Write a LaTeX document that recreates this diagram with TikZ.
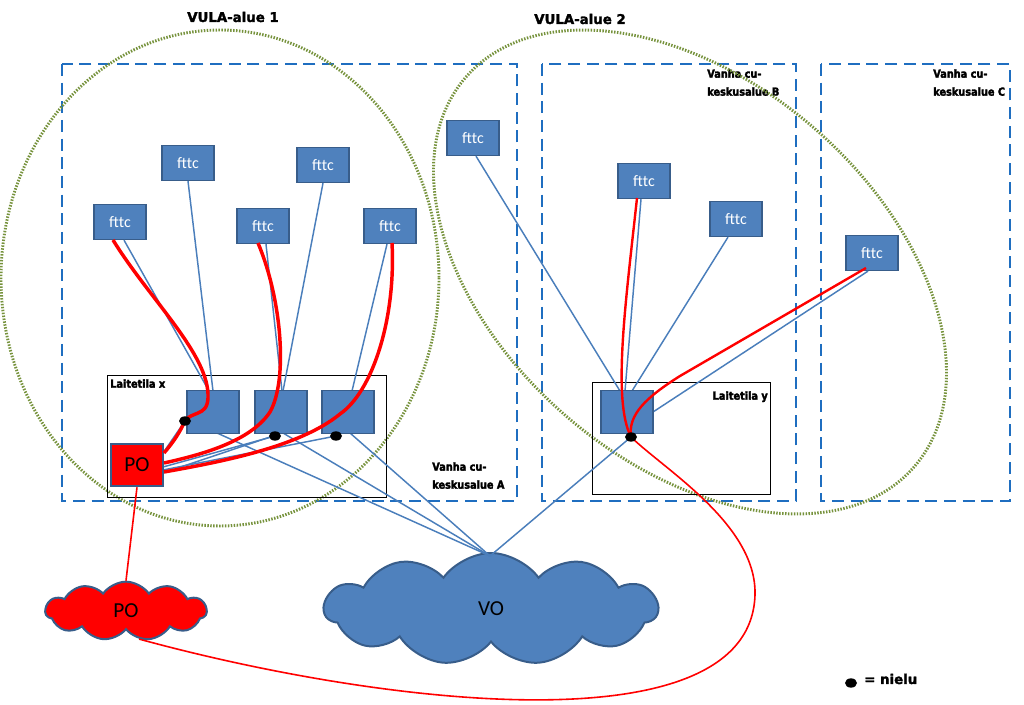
\documentclass[tikz,border=0pt]{standalone}
\usepackage{fontspec}
\setmainfont{Carlito}
\newfontfamily\labfont{DejaVu Sans}[BoldFeatures={FakeBold=2}]
\newfontfamily\smalllabfont{DejaVu Sans}[FakeStretch=0.88,BoldFeatures={FakeBold=2.5}]
\usetikzlibrary{shapes.symbols,shapes.geometric,calc}
\definecolor{dashblue}{HTML}{1F6EC0}
\definecolor{vulaolive}{HTML}{76923C}
\definecolor{boxfill}{HTML}{4F81BD}
\definecolor{boxline}{HTML}{385D8A}
\definecolor{wireblue}{HTML}{4A7EBB}
\definecolor{pored}{HTML}{FF0000}
\tikzset{
 fttcbox/.style={draw=boxline, line width=1.2pt, fill=boxfill, minimum width=39pt, minimum height=26pt, inner sep=0pt, text=white, font=\fontsize{12}{12}\selectfont},
 devbox/.style={draw=boxline, line width=1.2pt, fill=boxfill, minimum width=39pt, minimum height=32pt, inner sep=0pt},
 pobox/.style={draw=boxline, line width=1.5pt, fill=pored, minimum width=39pt, minimum height=32pt, inner sep=0pt, font=\fontsize{16}{16}\selectfont},
 room/.style={draw=black, line width=0.8pt, inner sep=0pt, anchor=north west},
 cuarea/.style={draw=dashblue, line width=2.2pt, dash pattern=on 9pt off 5pt},
 vula/.style={draw=vulaolive, line width=2.2pt, dash pattern=on 1.1pt off 1.1pt},
 wire/.style={draw=wireblue, line width=1.1pt},
 redthick/.style={draw=pored, line width=2.6pt},
 redmid/.style={draw=pored, line width=1.8pt},
 redthin/.style={draw=pored, line width=1.2pt},
 sink/.style={fill=black, ellipse, minimum width=9pt, minimum height=7pt, inner sep=0pt},
 lab/.style={font=\smalllabfont\bfseries\fontsize{8.3}{13.5}\selectfont, align=left, inner sep=0pt},
 biglab/.style={font=\labfont\bfseries\fontsize{10}{12}\selectfont, inner sep=0pt},
 bigcloud/.style={cloud, cloud puffs=11, cloud puff arc=110, cloud ignores aspect, draw=boxline, line width=1.5pt, inner sep=0pt, font=\fontsize{16}{16}\selectfont},
}
\begin{document}
\begin{tikzpicture}[x=0.75pt,y=-0.75pt]
\useasboundingbox (0,0) rectangle (1024,705);
% old copper exchange areas
\draw[cuarea] (62,64) rectangle (517,501);
\draw[cuarea] (542,64) rectangle (796,501);
\draw[cuarea] (821,64) rectangle (1010,501);
\node[lab, anchor=north west] (la) at (432,462) {Vanha cu-\\keskusalue A};
\node[lab, anchor=north west] (lb) at (707,69) {Vanha cu-\\keskusalue B};
\node[lab, anchor=north west] (lc) at (933,69) {Vanha cu-\\keskusalue C};
% VULA areas
\draw[vula] (220,278) ellipse [x radius=219, y radius=248];
\draw[vula, rotate around={-41:(690,272)}] (690,272) ellipse [x radius=297, y radius=190];
\node[biglab] (v1) at (233,17) {VULA-alue 1};
\node[biglab] (v2) at (580,19) {VULA-alue 2};
% equipment rooms
\node[room, minimum width=209pt, minimum height=91.5pt] (rx) at (107,375) {};
\node[room, minimum width=133.5pt, minimum height=84pt] (ry) at (592,382) {};
\node[lab, anchor=north west] (lx) at (110,379) {Laitetila x};
\node[lab, anchor=north east] (lyl) at (768,391) {Laitetila y};
% clouds
\node[bigcloud, fill=boxfill, minimum width=250pt, minimum height=84pt] (vo) at (491,609) {VO};
\node[bigcloud, fill=pored, minimum width=121pt, minimum height=44pt] (poc) at (126,611) {PO};
\coordinate (vt) at (490,556);
% nodes
\node[fttcbox] (f1) at (120,222) {fttc};
\node[fttcbox] (f2) at (188,163) {fttc};
\node[fttcbox] (f3) at (263,226) {fttc};
\node[fttcbox] (f4) at (323,165) {fttc};
\node[fttcbox] (f5) at (390,226) {fttc};
\node[fttcbox] (f6) at (473,138) {fttc};
\node[fttcbox] (f7) at (644,181) {fttc};
\node[fttcbox] (f8) at (736,219) {fttc};
\node[fttcbox] (f9) at (872,253) {fttc};
\coordinate (b1) at (213,412);
\coordinate (b2) at (281,412);
\coordinate (b3) at (348,412);
\coordinate (by) at (627,412);
\coordinate (pc) at (137,465);
% sinks positions
\coordinate (s1c) at (185,421);
\coordinate (s2c) at (275,436);
\coordinate (s3c) at (336,436);
\coordinate (syc) at (631,437);
% blue wires (under boxes)
\draw[wire] (f1.south) ++(4,0) -- ($(b1)+(-4,-21)$);
\draw[wire] (f2.south) -- ($(b1)+(0,-21)$);
\draw[wire] (f3.south) ++(3,0) -- ($(b2)+(1,-21)$);
\draw[wire] (f4.south) -- ($(b2)+(2,-21)$);
\draw[wire] (f5.south) ++(-3,0) -- ($(b3)+(4,-21)$);
\draw[wire] ($(b1)+(4,21)$) -- (vt);
\draw[wire] ($(b2)+(2,21)$) -- (vt);
\draw[wire] ($(b3)+(2,21)$) -- (vt);
\draw[wire] ($(pc)+(26,-12)$) -- (s1c);
\draw[wire] ($(pc)+(26,2)$) -- (s2c);
\draw[wire] ($(pc)+(26,5)$) -- (s3c);
\draw[wire] ($(pc)+(26,8)$) -- ($(s2c)+(4,-2)$);
\draw[wire] (f6.south) ++(3,0) -- ($(by)+(-7,-21)$);
\draw[wire] (f7.south) ++(-3,0) -- ($(by)+(-2,-21)$);
\draw[wire] (f8.south) ++(-8,0) -- ($(by)+(5,-21)$);
\draw[wire] (f9.south) ++(-4,0) -- ($(by)+(26,0)$);
\draw[wire] (syc) -- (vt);
% boxes
\node[devbox] (d1) at (b1) {};
\node[devbox] (d2) at (b2) {};
\node[devbox] (d3) at (b3) {};
\node[devbox] (dy) at (by) {};
\node[pobox] (po) at (pc) {PO};
% red paths
\draw[redthick] (113,240) .. controls (150,300) and (210,355) .. (208,398) .. controls (207,418) and (190,410) .. (184,423) .. controls (178,436) and (170,446) .. (164,453);
\draw[redthick] (258,243) .. controls (282,300) and (288,380) .. (270,412) .. controls (250,442) and (200,455) .. (164,463);
\draw[redthick] (392,243) .. controls (396,320) and (372,392) .. (340,414) .. controls (300,447) and (220,462) .. (164,472);
\draw[redmid] (637,198) .. controls (626,300) and (612,400) .. (631,437);
\draw[redmid] (866,268) -- (680,376) .. controls (645,398) and (628,415) .. (631,437);
\draw[redthin] (po.south) -- (poc.north);
\draw[redthin] (poc.-65) .. controls (380,705) and (750,750) .. (755,595) .. controls (757,525) and (665,470) .. (syc);
% sinks
\node[sink] (s1) at (s1c) {};
\node[sink] (s2) at (s2c) {};
\node[sink] (s3) at (s3c) {};
\node[sink] (sy) at (syc) {};
% legend
\node[sink] (ls) at (851,683) {};
\node[biglab, anchor=west] (lt) at (864,679) {= nielu};
\end{tikzpicture}
\end{document}
